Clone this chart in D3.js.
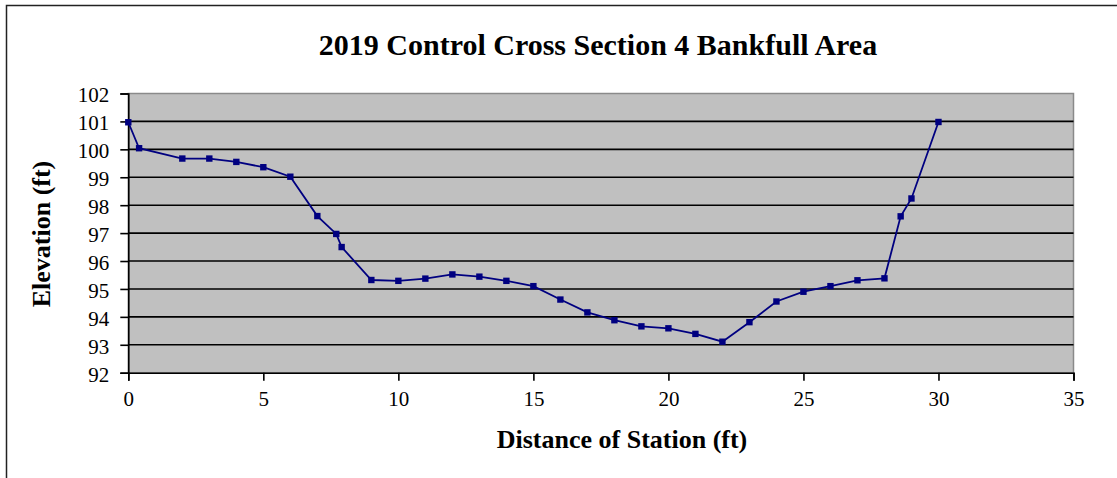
<!DOCTYPE html>
<html>
<head>
<meta charset="utf-8">
<script src="https://cdn.jsdelivr.net/npm/d3@7/dist/d3.min.js"></script>
<style>
  html, body { margin: 0; padding: 0; background: #fff; }
  svg { display: block; }
  text { font-family: "Liberation Serif", "Times New Roman", serif; fill: #000; }
</style>
</head>
<body>
<svg id="chart" width="1117" height="478"></svg>
<script>
// Station distance (ft) along the cross section
const stations = [0, 0.4, 2, 3, 4, 5, 6, 7, 7.7, 7.9, 9, 10, 11, 12, 13, 14, 15, 16, 17, 18,
                  19, 20, 21, 22, 23, 24, 25, 26, 27, 28, 28.6, 29, 30];
// Surveyed elevation (ft) at each station
const elevations = [100.97, 100.04, 99.67, 99.67, 99.55, 99.36, 99.02, 97.61, 96.97, 96.5,
                    95.32, 95.29, 95.37, 95.52, 95.44, 95.29, 95.10, 94.62, 94.16, 93.88,
                    93.66, 93.59, 93.39, 93.11, 93.81, 94.55, 94.9, 95.10, 95.31, 95.38,
                    97.6, 98.24, 100.98];
const xTicks = [0, 5, 10, 15, 20, 25, 30, 35];
const yTicks = [92, 93, 94, 95, 96, 97, 98, 99, 100, 101, 102];

const chartTitle = "2019 Control Cross Section 4 Bankfull Area";
const xTitle = "Distance of Station (ft)";
const yTitle = "Elevation (ft)";

const svg = d3.select("#chart");
const plot = { left: 128.3, right: 1073.5, top: 93.5, bottom: 372.7 };

const x = d3.scaleLinear().domain([0, 35]).range([plot.left, plot.right]);
const y = d3.scaleLinear().domain([92, 102]).range([plot.bottom, plot.top]);

// outer chart frame
svg.append("rect")
  .attr("x", 6.5).attr("y", 5.5)
  .attr("width", 1300).attr("height", 700)
  .attr("fill", "#fff").attr("stroke", "#222").attr("stroke-width", 1.5);

// plot area
svg.append("rect")
  .attr("x", plot.left).attr("y", plot.top)
  .attr("width", plot.right - plot.left).attr("height", plot.bottom - plot.top)
  .attr("fill", "#c0c0c0").attr("stroke", "#8a8a8a").attr("stroke-width", 1.5);

// horizontal gridlines
svg.append("g")
  .selectAll("line")
  .data(yTicks.filter(d => d > 92 && d < 102))
  .join("line")
  .attr("x1", plot.left).attr("x2", plot.right)
  .attr("y1", d => y(d)).attr("y2", d => y(d))
  .attr("stroke", "#000").attr("stroke-width", 1.6);

// axes
const yAxis = svg.append("g")
  .attr("transform", `translate(${plot.left},0)`)
  .call(d3.axisLeft(y).tickValues(yTicks).tickFormat(d3.format("d")).tickSize(8).tickPadding(11));
const xAxis = svg.append("g")
  .attr("transform", `translate(0,${plot.bottom})`)
  .call(d3.axisBottom(x).tickValues(xTicks).tickFormat(d3.format("d")).tickSize(8).tickPadding(10));

[yAxis, xAxis].forEach(g => {
  g.select(".domain").attr("stroke", "#000").attr("stroke-width", 1.6);
  g.selectAll(".tick line").attr("stroke", "#000").attr("stroke-width", 1.6);
  g.selectAll(".tick text")
    .attr("fill", "#000")
    .style("font-family", '"Liberation Serif", "Times New Roman", serif')
    .style("font-size", "21px");
});
yAxis.selectAll(".tick text").attr("dy", "0.4em");

// cross-section profile
const pts = stations.map((s, i) => [s, elevations[i]]);
svg.append("path")
  .datum(pts)
  .attr("fill", "none")
  .attr("stroke", "#000080")
  .attr("stroke-width", 1.8)
  .attr("d", d3.line().x(d => x(d[0])).y(d => y(d[1])));

svg.append("g")
  .selectAll("rect")
  .data(pts)
  .join("rect")
  .attr("x", d => x(d[0]) - 3.2)
  .attr("y", d => y(d[1]) - 3.2)
  .attr("width", 6.4).attr("height", 6.4)
  .attr("fill", "#000080");

// titles
svg.append("text")
  .attr("x", 598).attr("y", 54.5)
  .attr("text-anchor", "middle")
  .style("font-size", "30px").style("font-weight", "bold")
  .text(chartTitle);

svg.append("text")
  .attr("x", 622).attr("y", 447.5)
  .attr("text-anchor", "middle")
  .style("font-size", "26px").style("font-weight", "bold")
  .text(xTitle);

svg.append("text")
  .attr("transform", `translate(50,234) rotate(-90)`)
  .attr("text-anchor", "middle")
  .style("font-size", "26px").style("font-weight", "bold")
  .text(yTitle);
</script>
</body>
</html>
